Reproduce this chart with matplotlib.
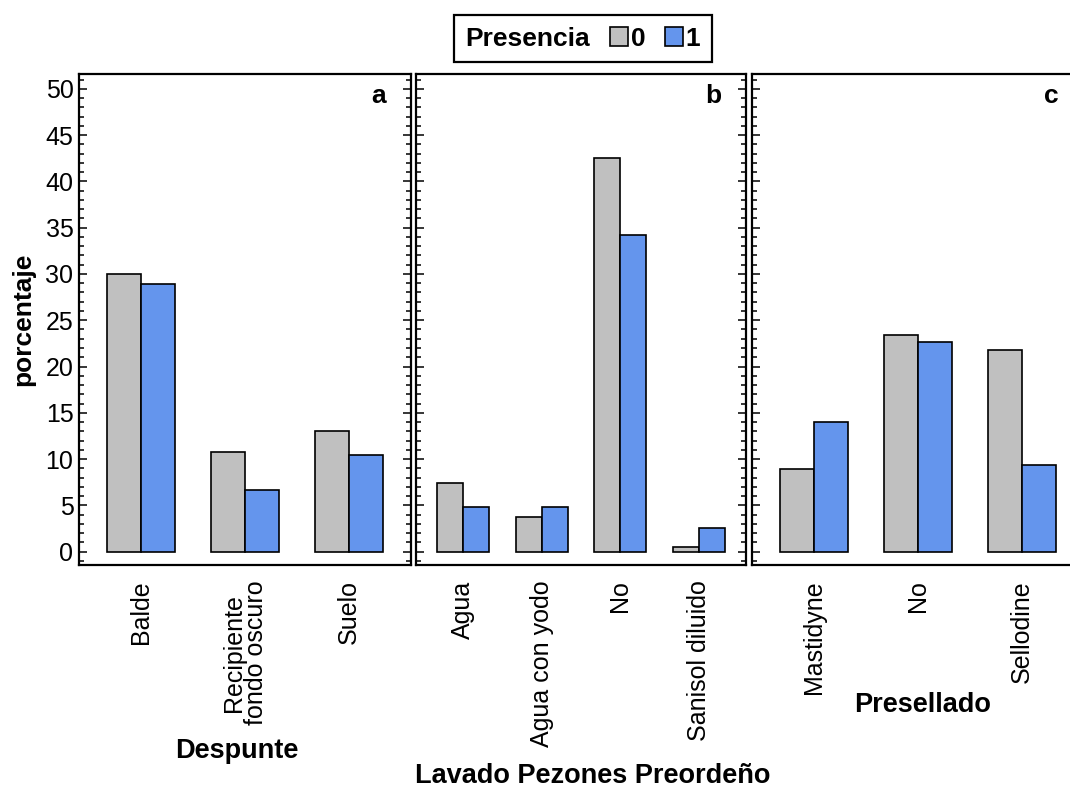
import matplotlib
matplotlib.use("Agg")
import matplotlib.pyplot as plt
from matplotlib.patches import Patch
from matplotlib.ticker import MultipleLocator

plt.rcParams['font.family'] = ['Liberation Sans', 'DejaVu Sans']

# Percentages by practice, for Presencia = 0 and Presencia = 1
despunte_cats = ["Balde", "Recipiente\nfondo oscuro", "Suelo"]
despunte_0 = [30.0, 10.8, 13.0]
despunte_1 = [28.9, 6.7, 10.4]

lavado_cats = ["Agua", "Agua con yodo", "No", "Sanisol diluido"]
lavado_0 = [7.4, 3.7, 42.5, 0.5]
lavado_1 = [4.8, 4.8, 34.2, 2.6]

presellado_cats = ["Mastidyne", "No", "Sellodine"]
presellado_0 = [8.9, 23.4, 21.8]
presellado_1 = [14.0, 22.7, 9.4]

panel_titles = ["Despunte", "Lavado Pezones Preordeño", "Presellado"]
panel_letters = ["a", "b", "c"]
legend_title = "Presencia"
legend_labels = ["0", "1"]

GREY = "#C0C0C0"
BLUE = "#6495ED"

W, H = 1070, 787
fig = plt.figure(figsize=(W / 100, H / 100), dpi=100)

# panel rectangles in pixels: left, width
bottom_px, top_px = 565, 74
panels_px = [(79, 332), (416, 330), (752, 332)]
# x-axis title anchor (axes fraction x, baseline axes fraction y)
xlabel_pos = [(0.476, -0.393), (0.536, -0.444), (0.514, -0.299)]

panels = [
    (despunte_cats, despunte_0, despunte_1),
    (lavado_cats, lavado_0, lavado_1),
    (presellado_cats, presellado_0, presellado_1),
]

bw = 0.33
for i, ((cats, v0, v1), (lx, wx)) in enumerate(zip(panels, panels_px)):
    ax = fig.add_axes([lx / W, 1 - bottom_px / H, wx / W, (bottom_px - top_px) / H])
    x = list(range(len(cats)))
    ax.bar([xi - bw for xi in x], v0, width=bw, align="edge", color=GREY,
           edgecolor="black", linewidth=1.2, zorder=2)
    ax.bar(x, v1, width=bw, align="edge", color=BLUE,
           edgecolor="black", linewidth=1.2, zorder=2)
    ax.set_xlim(-0.6, len(cats) - 1 + 0.6)
    ax.set_ylim(-1.44, 51.6)
    ax.set_xticks(x)
    ax.set_xticklabels(cats, rotation=90, fontsize=18, va="top", ha="center",
                       linespacing=0.9)
    ax.tick_params(axis="x", length=0, pad=11)
    ax.yaxis.set_major_locator(MultipleLocator(5))
    ax.yaxis.set_minor_locator(MultipleLocator(1))
    ax.tick_params(axis="y", which="both", direction="in", left=True, right=True,
                   width=1.1, labelsize=18, pad=4)
    ax.tick_params(axis="y", which="major", length=5.5)
    ax.tick_params(axis="y", which="minor", length=3.5)
    if i > 0:
        ax.tick_params(axis="y", which="both", labelleft=False)
    else:
        ax.set_ylabel("porcentaje", fontsize=19, fontweight="bold", labelpad=7)
    for s in ax.spines.values():
        s.set_linewidth(1.6)
    ax.set_xlabel(panel_titles[i], fontsize=19.5, fontweight="bold")
    ax.xaxis.label.set_verticalalignment("baseline")
    ax.xaxis.set_label_coords(*xlabel_pos[i])
    ax.text(0.925, 0.941, panel_letters[i], transform=ax.transAxes,
            fontsize=19, fontweight="bold", ha="right", va="baseline")

handles = [Patch(facecolor=GREY, edgecolor="black", linewidth=1.2),
           Patch(facecolor=BLUE, edgecolor="black", linewidth=1.2)]
leg = fig.legend(handles, legend_labels, title=legend_title, ncol=2,
                 loc="center", bbox_to_anchor=(583 / W, 1 - 38.5 / H),
                 prop={"size": 19, "weight": "bold"},
                 title_fontproperties={"size": 19, "weight": "bold"},
                 handlelength=0.7, handleheight=0.7, handletextpad=0.1,
                 columnspacing=0.15, borderpad=0.45, fancybox=False,
                 framealpha=1, edgecolor="black")
leg.get_frame().set_linewidth(1.6)
# put the title on the same row as the entries
outer = leg.get_children()[0]
title_box, entries_box = outer.get_children()[0], outer.get_children()[1]
outer._children = [entries_box]
entries_box._children = [title_box] + entries_box.get_children()
entries_box.sep = 14

fig.savefig("out.png", dpi=100)
